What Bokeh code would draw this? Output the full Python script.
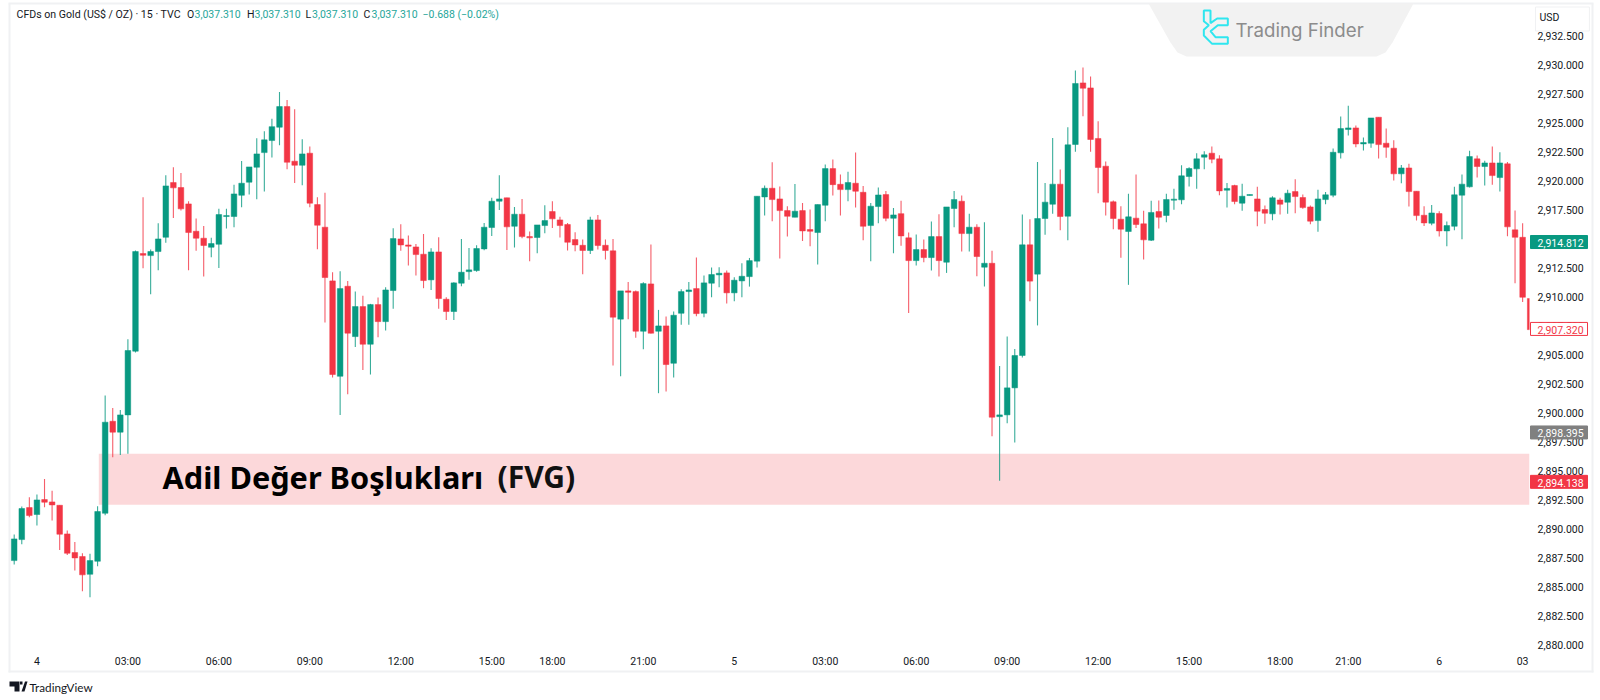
from bokeh.embed import file_html
from bokeh.models import (BoxAnnotation, ColumnDataSource, FixedTicker, Label,
                          NumeralTickFormatter, PolyAnnotation, Range1d)
from bokeh.plotting import figure
from bokeh.resources import INLINE

# candles, one every 15 minutes
opens = [
    2887.26, 2889.07, 2891.83, 2891.23, 2892.52, 2892.32, 2892.03, 2889.56, 2887.95, 2887.61,
    2886.08, 2887.20, 2891.34, 2899.27, 2898.33, 2899.82, 2905.31, 2913.73, 2913.55, 2913.90,
    2915.13, 2919.85, 2919.42, 2918.01, 2915.65, 2915.05, 2914.27, 2914.53, 2916.92, 2916.92,
    2918.75, 2919.88, 2921.17, 2922.43, 2923.47, 2924.62, 2926.40, 2921.69, 2921.34, 2922.38,
    2917.95, 2916.00, 2911.37, 2903.15, 2910.91, 2906.57, 2909.16, 2905.91, 2909.33, 2907.86,
    2910.54, 2914.99, 2914.47, 2914.30, 2913.67, 2911.46, 2913.87, 2909.79, 2908.73, 2911.17,
    2912.17, 2912.26, 2914.13, 2915.97, 2918.24, 2918.53, 2916.08, 2917.12, 2915.19, 2915.11,
    2916.14, 2917.35, 2916.63, 2916.23, 2914.93, 2914.44, 2913.99, 2916.63, 2914.44, 2913.96,
    2908.07, 2910.51, 2910.45, 2907.03, 2911.11, 2907.03, 2907.49, 2904.27, 2908.58, 2910.45,
    2910.71, 2908.58, 2911.17, 2911.89, 2912.06, 2910.34, 2911.37, 2911.74, 2913.07, 2918.61,
    2919.36, 2918.44, 2917.43, 2916.86, 2917.43, 2915.80, 2915.54, 2917.89, 2921.05, 2919.70,
    2919.24, 2919.79, 2919.01, 2916.14, 2917.78, 2918.81, 2916.77, 2917.17, 2915.08, 2913.12,
    2914.07, 2913.38, 2915.19, 2912.98, 2917.61, 2918.24, 2915.45, 2916.00, 2912.55, 2912.89,
    2899.67, 2899.82, 2902.15, 2904.94, 2914.48, 2911.95, 2916.75, 2917.98, 2919.71, 2916.95,
    2923.13, 2928.44, 2928.01, 2923.65, 2921.26, 2918.19, 2916.69, 2915.63, 2916.78, 2916.29,
    2914.88, 2917.35, 2917.01, 2918.33, 2918.36, 2920.37, 2921.03, 2922.04, 2922.38, 2921.89,
    2919.19, 2919.59, 2918.07, 2918.73, 2918.44, 2917.52, 2917.15, 2918.35, 2918.15, 2919.07,
    2918.56, 2917.75, 2916.57, 2918.38, 2918.76, 2922.41, 2924.42, 2924.56, 2923.18, 2923.24,
    2925.48, 2923.24, 2922.81, 2920.60, 2921.11, 2919.10, 2917.03, 2916.34, 2917.18, 2915.68,
    2916.08, 2918.76, 2919.48, 2921.89, 2921.23, 2921.54, 2920.28, 2921.46, 2915.77, 2915.13,
    2909.85,
]
highs = [
    2889.50, 2891.92, 2892.72, 2892.95, 2894.30, 2893.27, 2892.03, 2889.85, 2888.87, 2887.89,
    2887.84, 2891.95, 2901.49, 2900.42, 2900.25, 2906.34, 2914.00, 2918.58, 2914.07, 2916.34,
    2920.48, 2921.17, 2920.68, 2918.24, 2916.74, 2916.11, 2915.08, 2917.58, 2917.58, 2919.67,
    2921.71, 2921.20, 2923.67, 2924.27, 2925.34, 2927.66, 2926.97, 2926.17, 2923.58, 2922.95,
    2918.58, 2918.96, 2912.12, 2912.20, 2911.37, 2910.45, 2910.08, 2909.39, 2909.93, 2910.82,
    2915.91, 2916.25, 2915.28, 2914.56, 2915.42, 2914.19, 2915.13, 2909.96, 2911.25, 2914.99,
    2914.21, 2914.44, 2916.37, 2918.53, 2920.48, 2918.53, 2917.75, 2918.44, 2915.62, 2916.20,
    2917.89, 2918.24, 2916.89, 2916.37, 2915.57, 2914.93, 2916.89, 2917.06, 2914.93, 2914.99,
    2910.51, 2911.28, 2910.54, 2911.26, 2914.50, 2908.87, 2908.30, 2908.73, 2910.65, 2911.28,
    2913.38, 2911.83, 2912.52, 2912.55, 2912.26, 2911.69, 2912.89, 2913.35, 2918.67, 2919.59,
    2921.60, 2919.50, 2917.81, 2919.73, 2918.09, 2917.52, 2917.95, 2921.40, 2921.83, 2920.54,
    2920.77, 2922.43, 2919.56, 2918.09, 2919.42, 2919.13, 2917.66, 2918.27, 2915.54, 2915.36,
    2914.93, 2916.49, 2917.12, 2917.75, 2919.13, 2918.73, 2917.17, 2916.26, 2916.43, 2913.96,
    2904.04, 2906.57, 2905.50, 2917.09, 2916.69, 2921.61, 2919.80, 2923.70, 2920.97, 2924.62,
    2929.51, 2929.77, 2928.99, 2925.14, 2921.66, 2918.30, 2917.81, 2918.88, 2920.54, 2917.41,
    2918.27, 2918.30, 2918.88, 2919.31, 2921.35, 2921.17, 2922.38, 2922.55, 2922.96, 2922.21,
    2919.82, 2919.65, 2919.74, 2918.82, 2919.48, 2917.87, 2918.67, 2918.53, 2919.22, 2920.14,
    2918.81, 2917.87, 2919.22, 2919.04, 2922.78, 2925.54, 2926.46, 2924.76, 2923.73, 2925.42,
    2925.48, 2924.50, 2923.50, 2921.37, 2921.46, 2919.10, 2917.81, 2917.92, 2917.38, 2916.49,
    2919.48, 2920.54, 2922.58, 2922.18, 2921.72, 2922.95, 2922.46, 2921.63, 2917.44, 2916.34,
    2909.85,
]
lows = [
    2886.92, 2888.67, 2891.00, 2890.28, 2891.86, 2890.71, 2888.18, 2887.75, 2886.40, 2884.62,
    2884.10, 2886.77, 2891.17, 2896.17, 2896.37, 2896.46, 2905.19, 2912.46, 2910.22, 2912.29,
    2914.67, 2916.80, 2917.43, 2912.29, 2913.98, 2911.74, 2913.41, 2912.49, 2915.88, 2916.00,
    2917.72, 2918.81, 2918.41, 2919.07, 2922.00, 2923.07, 2921.00, 2919.82, 2919.62, 2917.72,
    2914.10, 2907.78, 2903.04, 2899.82, 2901.60, 2905.68, 2903.70, 2903.30, 2906.51, 2907.09,
    2908.98, 2913.98, 2912.69, 2911.83, 2910.74, 2910.59, 2908.98, 2908.01, 2908.01, 2910.91,
    2911.46, 2912.17, 2914.01, 2915.25, 2917.49, 2914.04, 2914.24, 2915.05, 2913.07, 2913.76,
    2915.48, 2915.94, 2915.11, 2913.99, 2913.93, 2911.94, 2913.70, 2914.07, 2913.21, 2904.07,
    2903.15, 2908.07, 2906.46, 2905.48, 2906.83, 2901.69, 2901.83, 2903.04, 2907.58, 2907.58,
    2908.32, 2908.24, 2909.96, 2910.82, 2909.42, 2909.62, 2909.96, 2910.88, 2912.52, 2917.00,
    2916.51, 2913.30, 2915.19, 2916.86, 2914.82, 2914.36, 2912.78, 2916.51, 2918.73, 2917.00,
    2918.24, 2917.69, 2914.88, 2913.07, 2916.34, 2916.51, 2913.76, 2914.39, 2908.61, 2912.69,
    2912.98, 2912.26, 2911.74, 2912.06, 2916.00, 2913.90, 2913.90, 2911.77, 2910.88, 2897.98,
    2894.14, 2899.10, 2897.45, 2904.76, 2909.62, 2907.53, 2915.34, 2917.15, 2915.74, 2914.88,
    2922.50, 2925.57, 2922.50, 2918.93, 2917.01, 2915.83, 2913.36, 2911.03, 2915.94, 2913.21,
    2914.80, 2915.89, 2916.43, 2917.50, 2917.98, 2919.51, 2919.31, 2921.00, 2921.52, 2918.76,
    2917.70, 2917.98, 2917.41, 2918.73, 2916.08, 2916.29, 2916.60, 2917.09, 2917.15, 2917.21,
    2917.58, 2916.26, 2915.60, 2917.98, 2918.58, 2921.92, 2923.90, 2922.89, 2922.61, 2922.84,
    2921.92, 2921.98, 2920.02, 2919.79, 2917.78, 2916.57, 2916.11, 2916.17, 2915.19, 2914.36,
    2915.74, 2914.96, 2919.42, 2920.28, 2919.59, 2919.65, 2919.07, 2915.22, 2911.17, 2909.56,
    2907.17,
]
closes = [
    2889.13, 2891.75, 2891.14, 2892.49, 2892.29, 2892.06, 2889.53, 2887.89, 2887.49, 2886.03,
    2887.26, 2891.49, 2899.19, 2898.33, 2899.82, 2905.37, 2913.90, 2913.58, 2913.90, 2914.99,
    2919.56, 2919.39, 2917.58, 2915.54, 2915.05, 2914.42, 2914.59, 2917.09, 2917.00, 2918.87,
    2919.79, 2921.20, 2922.32, 2923.53, 2924.67, 2926.40, 2921.60, 2921.34, 2922.32, 2918.07,
    2916.17, 2911.66, 2903.30, 2910.71, 2906.86, 2909.16, 2905.91, 2909.33, 2907.86, 2910.59,
    2915.02, 2914.47, 2914.36, 2913.64, 2911.40, 2913.87, 2909.85, 2908.73, 2911.20, 2912.12,
    2912.32, 2914.16, 2916.00, 2918.24, 2918.44, 2916.03, 2917.12, 2915.19, 2915.08, 2916.20,
    2916.57, 2916.72, 2916.14, 2914.70, 2914.47, 2913.99, 2916.63, 2914.42, 2913.99, 2908.24,
    2910.51, 2910.39, 2907.03, 2911.14, 2906.86, 2907.49, 2904.16, 2908.41, 2910.45, 2910.59,
    2908.55, 2911.20, 2911.92, 2912.03, 2910.34, 2911.43, 2911.77, 2913.12, 2918.67, 2919.36,
    2918.38, 2917.43, 2916.94, 2917.38, 2915.68, 2915.65, 2917.95, 2921.05, 2919.67, 2919.24,
    2919.85, 2919.10, 2916.08, 2917.81, 2918.78, 2916.77, 2917.06, 2915.25, 2913.12, 2914.07,
    2913.38, 2915.19, 2913.12, 2917.75, 2918.38, 2915.45, 2916.00, 2913.47, 2912.89, 2899.62,
    2899.82, 2902.15, 2904.94, 2914.48, 2911.35, 2916.75, 2918.16, 2919.71, 2916.92, 2923.10,
    2928.39, 2927.98, 2923.56, 2921.15, 2918.16, 2916.75, 2915.83, 2916.89, 2916.23, 2914.91,
    2917.27, 2916.86, 2918.39, 2918.42, 2920.43, 2921.06, 2921.89, 2922.24, 2921.86, 2919.13,
    2919.34, 2918.21, 2918.67, 2918.82, 2917.38, 2917.21, 2918.53, 2917.98, 2918.93, 2918.64,
    2917.69, 2916.52, 2918.44, 2918.79, 2922.46, 2924.50, 2924.56, 2923.18, 2923.30, 2925.42,
    2923.12, 2922.89, 2920.60, 2921.11, 2919.07, 2917.00, 2916.37, 2917.23, 2915.68, 2916.14,
    2918.79, 2919.71, 2922.09, 2921.23, 2921.54, 2920.45, 2921.54, 2916.03, 2915.13, 2909.96,
    2907.17,
]

time_ticks = [3, 15, 27, 39, 51, 63, 71, 83, 95, 107, 119, 131, 143, 155, 167, 176, 188, 199]
time_labels = ["4", "03:00", "06:00", "09:00", "12:00", "15:00", "18:00", "21:00", "5",
               "03:00", "06:00", "09:00", "12:00", "15:00", "18:00", "21:00", "6", "03"]
price_ticks = [2880 + 2.5 * n for n in range(22)]
price_tags = [2914.812, 2907.320, 2898.395, 2894.138]

fvg_top = 2896.46
fvg_bottom = 2892.07
fvg_start = 11.16
pane_right = 199.91
pane_bottom = 2879.681

UP = "#089981"
DOWN = "#f23645"
INK = "#131722"
EDGE = "#f0f1f3"
GREY = "#808080"

idx = list(range(len(opens)))
colors = [UP if c >= o else DOWN for o, c in zip(opens, closes)]
source = ColumnDataSource(dict(x=idx, open=opens, high=highs, low=lows, close=closes,
                               top=[max(o, c) for o, c in zip(opens, closes)],
                               bottom=[min(o, c) for o, c in zip(opens, closes)],
                               color=colors))

# the frame fills the canvas, so the axes sit inside it at fixed locations
p = figure(width=1600, height=700, output_backend="svg", toolbar_location=None,
           x_range=Range1d(-1.807, 209.274), y_range=Range1d(2875.198, 2935.543),
           y_axis_location="right", min_border=0, background_fill_color="white",
           border_fill_color="white", outline_line_color=None)
p.grid.visible = False

p.xaxis.ticker = FixedTicker(ticks=time_ticks)
p.xaxis.major_label_overrides = dict(zip(time_ticks, time_labels))
p.xaxis.fixed_location = pane_bottom
p.yaxis.ticker = FixedTicker(ticks=price_ticks)
p.yaxis.formatter = NumeralTickFormatter(format="0,0.000")
p.yaxis.fixed_location = pane_right
for ax in (p.xaxis[0], p.yaxis[0]):
    ax.axis_line_color = None
    ax.major_tick_line_color = None
    ax.minor_tick_line_color = None
    ax.major_tick_out = 0
    ax.major_tick_in = 0
    ax.major_label_text_color = INK
    ax.major_label_text_font = "Roboto"
    ax.major_label_text_font_size = "10.5px"
    ax.level = "annotation"
p.xaxis[0].major_label_standoff = 7
p.yaxis[0].major_label_standoff = 8


def sy(py):
    return 700 - py


def text(t, px, py, color=INK, size=10.5, font="Roboto", **kw):
    p.add_layout(Label(x=px, y=sy(py), x_units="screen", y_units="screen", text=t,
                       text_color=color, text_font=font, text_font_size=f"{size}px",
                       text_baseline="middle", **kw))


def box(l, r, t, b, color, level):
    p.add_layout(BoxAnnotation(left=l, right=r, top=sy(t), bottom=sy(b),
                               left_units="screen", right_units="screen", top_units="screen",
                               bottom_units="screen", fill_color=color, fill_alpha=1,
                               line_color=None, level=level))


def poly(points, fill, line=None, line_width=1):
    p.add_layout(PolyAnnotation(xs=[a for a, _ in points], ys=[sy(b) for _, b in points],
                                xs_units="screen", ys_units="screen", fill_color=fill,
                                fill_alpha=1, line_color=line, line_alpha=1,
                                line_width=line_width, level="underlay"))


# pane borders
box(8, 10, 3, 672, EDGE, "underlay")
box(1591, 1593, 3, 672, EDGE, "underlay")
box(8, 1593, 670, 672, EDGE, "underlay")
box(8, 1593, 2, 4, EDGE, "underlay")

# watermark
poly([(1148, 3), (1170, 42), (1177, 52), (1186, 56), (1376, 56), (1385, 52), (1392, 42), (1413, 3)],
     "#f2f2f2")
zx = [310, 330, 330, 350, 382, 382, 352, 330, 345, 382, 382, 335, 310, 310, 325, 310]
zy = [30, 30, 68, 54, 54, 74, 74, 92, 110, 110, 130, 130, 105, 88, 74, 62]
poly([(1100 + a / 3, b / 3) for a, b in zip(zx, zy)], None, "#2fe6ef", 2)
text("Trading Finder", 1235, 29.5, "#8c8c8c", 18.7, "Inter")

# fair value gap zone, under the candles
p.quad(left=fvg_start, right=pane_right, top=fvg_top, bottom=fvg_bottom, fill_color="#fcd8da",
       line_color=None, level="underlay")

p.segment("x", "high", "x", "low", source=source, color="color", line_width=1.1, line_alpha=0.8)
p.vbar("x", 0.74, "top", "bottom", source=source, fill_color="color", line_color="color",
       line_width=0.5)

# cuts the last candle at the price scale
box(1529, 1590, 5, 668, "white", "guide")

# header
text("CFDs on Gold (US$ / OZ) · 15 · TVC", 16, 13.5, size=10.6)
for letter, lx, vx in [("O", 186.5, 194), ("H", 246.5, 254), ("L", 305, 311.5), ("C", 363, 371)]:
    text(letter, lx, 13.5)
    text("3,037.310", vx, 13.5, "#26a69a")
text("−0.688 (−0.02%)", 422, 13.5, "#26a69a")

# FVG caption
text("Adil Değer Boşlukları", 162, 476, "#000000", 30.7, "Noto Sans", text_font_style="bold")
text("(FVG)", 497, 476, "#111111", 30, "Noto Sans", text_font_style="bold")

# price tags on the axis
p.add_layout(Label(x=1535, y=sy(18.5), x_units="screen", y_units="screen", text="USD",
                   text_color=INK, text_font="Roboto", text_font_size="10.5px",
                   text_baseline="middle", background_fill_color="white",
                   border_line_color=EDGE, padding=(4, 30, 4, 7)))
tag_styles = [(UP, "white", UP), ("white", DOWN, DOWN), (GREY, "white", GREY), (DOWN, "white", DOWN)]
for value, (bg, fg, bd) in zip(price_tags, tag_styles):
    p.add_layout(BoxAnnotation(left=1530, right=1587, top=value + 0.47, bottom=value - 0.65,
                               left_units="screen", right_units="screen", fill_color=bg,
                               fill_alpha=1, line_color=bd, line_alpha=1, level="annotation"))
    p.add_layout(Label(x=1537, y=value, x_units="screen", y_units="data", y_offset=-2,
                       text=f"{value:,.3f}", text_color=fg, text_font="Roboto",
                       text_font_size="10.5px", text_baseline="middle"))

# footer
poly([(9, 681), (19, 681), (19, 691), (14, 691), (14, 686), (9, 686)], INK)
poly([(21, 691), (24.5, 681), (27, 681), (24, 691)], INK)
poly([(19.5, 681), (22, 681), (22, 684), (19.5, 684)], INK)
text("TradingView", 29, 686, INK, 11.7, "Lato")

open("out.html", "w").write(file_html(p, INLINE))
